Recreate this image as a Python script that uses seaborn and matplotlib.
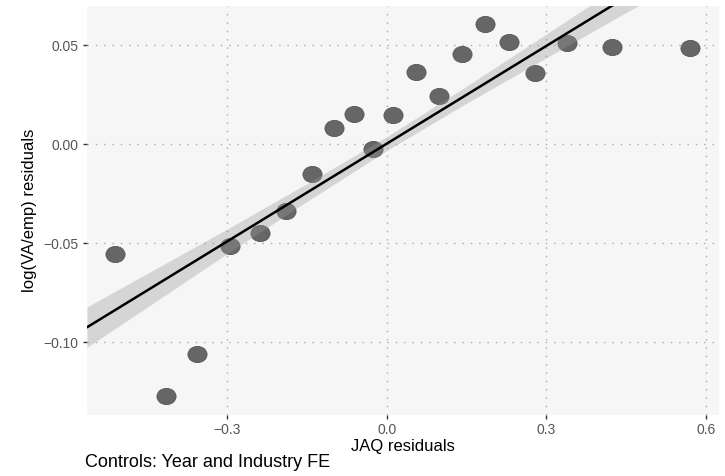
import numpy as np
import pandas as pd
import matplotlib
matplotlib.use("Agg")
import matplotlib.pyplot as plt
import seaborn as sns
from matplotlib.path import Path
from matplotlib.transforms import Affine2D

# binned residuals
jaq_resid = [-0.511, -0.416, -0.357, -0.295, -0.238, -0.190, -0.141, -0.099, -0.061, -0.025,
             0.0125, 0.055, 0.098, 0.141, 0.185, 0.230, 0.2795, 0.340, 0.424, 0.570]
va_resid = [-0.0556, -0.1273, -0.1062, -0.0515, -0.0448, -0.0337, -0.0150, 0.0081, 0.0150, -0.0025,
            0.0146, 0.0362, 0.0242, 0.0453, 0.0604, 0.0515, 0.0360, 0.0512, 0.0492, 0.0487]

# confidence band of the fit (from the full sample)
band_x = [-0.564, -0.45, -0.30, -0.15, 0.0, 0.15, 0.30, 0.45, 0.625]
band_lo = [-0.1027, -0.0823, -0.0553, -0.0290, -0.0033, 0.0206, 0.0435, 0.0664, 0.0920]
band_hi = [-0.0823, -0.0653, -0.0429, -0.0200, 0.0037, 0.0292, 0.0555, 0.0820, 0.1140]

x_ticks = [-0.3, 0.0, 0.3, 0.6]
y_ticks = [-0.10, -0.05, 0.00, 0.05]

df = pd.DataFrame({"jaq": jaq_resid, "va": va_resid})

sns.set_theme(style="whitegrid")
plt.rcParams["font.family"] = ["Liberation Sans", "DejaVu Sans"]

fig = plt.figure(figsize=(7.25, 4.76), dpi=100)
ax = fig.add_axes([0.12, 0.128, 0.8717, 0.8594])
ax.set_facecolor("#f6f6f6")
ax.set_xlim(-0.564, 0.625)
ax.set_ylim(-0.1369, 0.0697)

# slightly wide ellipse, like the stretched dots in the reference
ellipse = Affine2D().scale(1.18, 1.0).transform_path(Path.unit_circle())

sns.regplot(data=df, x="jaq", y="va", ax=ax, ci=None, truncate=False, marker=ellipse,
            scatter_kws={"s": 190, "color": "#666666", "edgecolor": "#555555",
                         "linewidths": 0.6, "alpha": 1, "zorder": 2},
            line_kws={"color": "black", "lw": 1.8, "zorder": 4})
ax.fill_between(band_x, band_lo, band_hi, color="#999999", alpha=0.35, lw=0, zorder=3)

ax.set_xticks(x_ticks)
ax.set_xticklabels(["\u22120.3", "0.0", "0.3", "0.6"])
ax.set_yticks(y_ticks)
ax.set_yticklabels(["\u22120.10", "\u22120.05", "0.00", "0.05"])
ax.grid(True, color="#aaaaaa", linestyle=(0, (1, 5)), linewidth=1.0)
for s in ax.spines.values():
    s.set_visible(False)
ax.tick_params(axis="both", which="major", length=3, width=1, color="#333333",
               labelsize=10, labelcolor="#555555", pad=3)
ax.tick_params(axis="x", bottom=True)
ax.tick_params(axis="y", left=True)

ax.set_xlabel("JAQ residuals", fontsize=12, color="black", labelpad=1)
ax.set_ylabel("log(VA/emp) residuals", fontsize=12, color="black", labelpad=5)

fig.text(0.117, 0.028, "Controls: Year and Industry FE", fontsize=13, color="black",
         ha="left", va="center")

fig.savefig("out.png", dpi=100)
